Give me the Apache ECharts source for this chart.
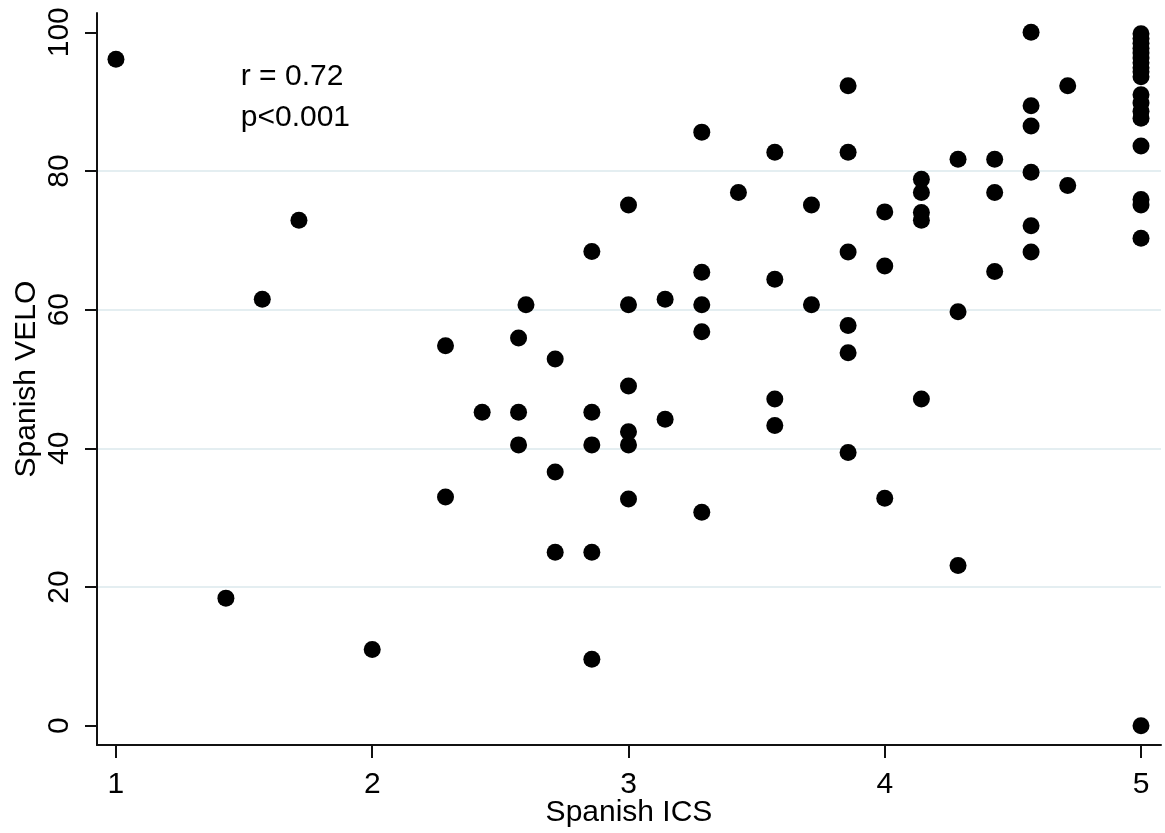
<!DOCTYPE html>
<html>
<head>
<meta charset="utf-8">
<script src="https://cdn.jsdelivr.net/npm/echarts@6/dist/echarts.min.js"></script>
<style>
html,body{margin:0;padding:0;background:#fff;}
#chart{width:1165px;height:833px;}
</style>
</head>
<body>
<div id="chart"></div>
<script>
var ics = [
  1, 1.429, 1.571, 1.714, 2,
  2.286, 2.286, 2.429, 2.571, 2.571, 2.571, 2.6,
  2.714, 2.714, 2.714, 2.857, 2.857, 2.857, 2.857, 2.857,
  3, 3, 3, 3, 3, 3, 3.143, 3.143,
  3.286, 3.286, 3.286, 3.286, 3.286, 3.429,
  3.571, 3.571, 3.571, 3.571, 3.714, 3.714,
  3.857, 3.857, 3.857, 3.857, 3.857, 3.857,
  4, 4, 4, 4.143, 4.143, 4.143, 4.143, 4.143,
  4.286, 4.286, 4.286, 4.429, 4.429, 4.429,
  4.571, 4.571, 4.571, 4.571, 4.571, 4.571, 4.714, 4.714,
  5, 5, 5, 5, 5, 5, 5, 5, 5, 5, 5, 5, 5, 5, 5, 5, 5, 5, 5
];
var velo = [
  96.1, 18.4, 61.5, 72.9, 11.0,
  54.8, 33.0, 45.2, 55.9, 45.2, 40.5, 60.7,
  52.9, 36.6, 25.0, 68.4, 45.2, 40.5, 25.0, 9.6,
  75.1, 60.7, 49.0, 42.4, 40.5, 32.7, 61.5, 44.2,
  85.6, 65.4, 60.7, 56.8, 30.8, 76.9,
  82.7, 64.4, 47.1, 43.3, 75.1, 60.7,
  92.3, 82.7, 68.3, 57.7, 53.8, 39.4,
  74.1, 66.3, 32.8, 78.8, 76.9, 74.0, 72.9, 47.1,
  81.7, 59.7, 23.1, 81.7, 76.9, 65.5,
  100, 89.4, 86.5, 79.8, 72.1, 68.3, 92.3, 77.9,
  99.8, 99.1, 98.4, 97.7, 97.0, 96.3, 95.6, 94.9, 94.3, 93.6, 91.0, 89.8, 88.6, 87.6, 83.6, 75.9, 75.1, 70.3, 0
];
var xTicks = [1, 2, 3, 4, 5];
var yTicks = [0, 20, 40, 60, 80, 100];
var xTitle = 'Spanish ICS';
var yTitle = 'Spanish VELO';
var statLines = ['r = 0.72', 'p<0.001'];

var points = ics.map(function (x, i) { return [x, velo[i]]; });
var FONT = 'Liberation Sans, Arial, sans-serif';
var AXC = '#111111';
var FS = 30;

var chart = echarts.init(document.getElementById('chart'), null, {renderer: 'canvas'});
chart.setOption({
  animation: false,
  backgroundColor: '#ffffff',
  grid: {left: 97, right: 4, top: 13, bottom: 88, containLabel: false, outerBoundsMode: 'none'},
  xAxis: {
    type: 'value',
    min: 0.926, max: 5.078,
    name: xTitle, nameLocation: 'middle', nameGap: 53, nameMoveOverlap: false,
    nameTextStyle: {fontFamily: FONT, fontSize: FS, color: '#000'},
    axisLine: {show: true, onZero: false, lineStyle: {color: AXC, width: 2}},
    axisTick: {show: true, length: 13, customValues: xTicks, lineStyle: {color: AXC, width: 2}},
    axisLabel: {customValues: xTicks, margin: 25, fontFamily: FONT, fontSize: FS, color: '#000'},
    splitLine: {show: false}
  },
  yAxis: {
    type: 'value',
    min: -2.78, max: 102.78,
    name: yTitle, nameLocation: 'middle', nameGap: 55, nameRotate: 90, nameMoveOverlap: false,
    nameTextStyle: {fontFamily: FONT, fontSize: FS, color: '#000'},
    axisLine: {show: true, onZero: false, lineStyle: {color: AXC, width: 2}},
    axisTick: {show: true, length: 12, customValues: yTicks, lineStyle: {color: AXC, width: 2}},
    axisLabel: {customValues: yTicks, rotate: 90, margin: 22, fontFamily: FONT, fontSize: FS, color: '#000'},
    splitLine: {show: true, showMinLine: false, showMaxLine: false, lineStyle: {color: '#e4eef1', width: 2}}
  },
  series: [{
    type: 'scatter',
    data: points,
    symbol: 'circle',
    symbolSize: 17,
    itemStyle: {color: '#000', opacity: 1},
    z: 3
  }]
});

var anchor = chart.convertToPixel({gridIndex: 0}, [1.487, 95.8]);
var anchor2 = chart.convertToPixel({gridIndex: 0}, [1.487, 89.9]);
chart.setOption({
  graphic: [
    {type: 'text', left: anchor[0], top: anchor[1], z: 10,
     style: {text: statLines[0], font: FS + 'px ' + FONT, fill: '#000'}},
    {type: 'text', left: anchor2[0], top: anchor2[1], z: 10,
     style: {text: statLines[1], font: FS + 'px ' + FONT, fill: '#000'}}
  ]
});
</script>
</body>
</html>
